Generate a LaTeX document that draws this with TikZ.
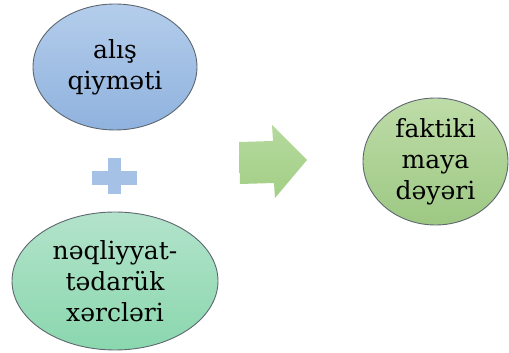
\documentclass[tikz,border=0pt]{standalone}
\usepackage{fontspec}
\setmainfont{DejaVu Serif}
\usepackage{xcolor}
\usepackage{tikz}
\usetikzlibrary{shapes.geometric,positioning}
\definecolor{azulTopo}{HTML}{B4CDEB}
\definecolor{azulBase}{HTML}{8FB2DE}
\definecolor{verdeTopo}{HTML}{B3E3CB}
\definecolor{verdeBase}{HTML}{8AD7AE}
\definecolor{folhaTopo}{HTML}{BEDCA8}
\definecolor{folhaBase}{HTML}{9DC883}
\definecolor{setaTopo}{HTML}{B4D99C}
\definecolor{setaBase}{HTML}{A3CF86}
\definecolor{contorno}{HTML}{5E6670}
\tikzset{
    bolha/.style={
        ellipse,
        draw=contorno,
        line width=0.9pt,
        inner sep=0pt,
        align=center,
        font=\fontsize{25}{31}\selectfont
    },
    custo/.style={bolha, top color=azulTopo, bottom color=azulBase},
    frete/.style={bolha, top color=verdeTopo, bottom color=verdeBase},
    resultado/.style={bolha, top color=folhaTopo, bottom color=folhaBase},
    sinal/.style={fill=azulBase!80!white},
    seta/.style={top color=setaTopo, bottom color=setaBase}
}

\begin{document}
\begin{tikzpicture}[x=1pt, y=1pt]
        \useasboundingbox (0,0) rectangle (509,353);
        \node[custo, minimum width=164pt, minimum height=126pt] (compra)
            at (115,286) {alış\\qiyməti};
        \node[frete, minimum width=206pt, minimum height=138pt] (transporte)
            at (115,72) {nəqliyyat-\\tədarük\\xərcləri};
        \node[resultado, minimum width=145pt, minimum height=127pt] (maya)
            at (435.5,191.5) {faktiki\\maya\\dəyəri};

        % sinal de soma
        \fill[sinal] (92,168) rectangle (137,182);
        \fill[sinal] (108,159) rectangle (121,195);

        % seta para o resultado
        \path[seta] (239,211) -- (273,212) -- (272,228) -- (307,193)
            -- (275,155) -- (274,170) -- (240,169) -- cycle;
\end{tikzpicture}
\end{document}
